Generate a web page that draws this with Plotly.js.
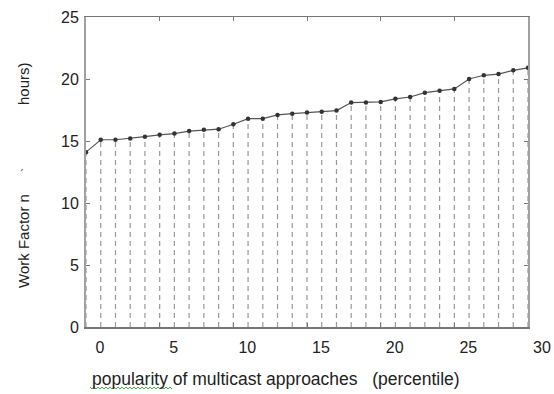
<!DOCTYPE html>
<html>
<head>
<meta charset="utf-8">
<script src="https://cdn.plot.ly/plotly-3.0.1.min.js"></script>
<style>html,body{margin:0;padding:0;background:#fff;}#chart{width:554px;height:394px;}</style>
</head>
<body>
<div id="chart"></div>
<script>
const percentile = [0,1,2,3,4,5,6,7,8,9,10,11,12,13,14,15,16,17,18,19,20,21,22,23,24,25,26,27,28,29,30];
const workFactor = [14.1,15.1,15.1,15.2,15.35,15.5,15.6,15.8,15.9,15.95,16.35,16.8,16.8,17.1,17.2,17.3,17.35,17.45,18.1,18.1,18.15,18.4,18.55,18.9,19.05,19.2,20.0,20.3,20.4,20.7,20.9];
const xTickVals = [0,5,10,15,20,25,30];
const xTickText = ["0","5","10","15","20","25","30"];
const yTickVals = [0,5,10,15,20,25];
const yTickText = ["0","5","10","15","20","25"];
const xTitle = 'popularity of multicast approaches \u00A0 (percentile)';
const yTitleA = 'Work Factor n';
const yTitleB = 'hours)';

const stemX = [], stemY = [];
percentile.forEach((p, i) => { stemX.push(p, p, null); stemY.push(0, workFactor[i], null); });

// plot area geometry (px) for placing titles in paper coordinates
const L = 86, R = 528, T = 17, B = 327, W = R - L, H = B - T;
const px = v => (v - L) / W, py = v => (B - v) / H;

// spell-check squiggle under "popularity"
let sq = 'M' + px(90) + ',' + py(387);
for (let k = 0, xx = 90; xx < 172; k++) { xx += 2; sq += ' L' + px(xx) + ',' + py(k % 2 ? 387 : 389); }

const font = "Liberation Sans, Arial, sans-serif";
const data = [
  {x: stemX, y: stemY, type: 'scatter', mode: 'lines',
   line: {color: '#999', width: 1.2, dash: '5px,4px'}, hoverinfo: 'skip'},
  {x: percentile, y: workFactor, type: 'scatter', mode: 'lines+markers',
   line: {color: '#555', width: 1.2}, marker: {color: '#333', size: 4.5}}
];
const layout = {
  width: 554, height: 394, showlegend: false,
  paper_bgcolor: '#fff', plot_bgcolor: '#fff',
  margin: {l: L, r: 554 - R, t: T, b: 394 - B},
  font: {family: font, color: '#222'},
  xaxis: {range: [0, 30], tickvals: xTickVals, ticktext: xTickText,
    ticks: 'inside', ticklen: 4, tickcolor: '#777', mirror: 'ticks',
    showline: true, linecolor: '#777', linewidth: 1.5, showgrid: false, zeroline: false,
    ticklabelshift: 14, ticklabelstandoff: 5,
    tickfont: {size: 16, color: '#222', family: font}},
  yaxis: {range: [0, 25], tickvals: yTickVals, ticktext: yTickText,
    ticks: 'inside', ticklen: 4, tickcolor: '#777', mirror: 'ticks',
    showline: true, linecolor: '#a0a0a0', linewidth: 2, showgrid: false, zeroline: false,
    ticklabelstandoff: 2,
    tickfont: {size: 16, color: '#222', family: font}},
  annotations: [
    {text: xTitle, xref: 'paper', yref: 'paper', x: px(90), y: py(379), xanchor: 'left', yanchor: 'middle',
     showarrow: false, font: {size: 17.5, color: '#222', family: font}},
    {text: yTitleA, xref: 'paper', yref: 'paper', x: px(23), y: py(241), xanchor: 'center', yanchor: 'middle',
     textangle: -90, showarrow: false, font: {size: 15, color: '#222', family: font}},
    {text: yTitleB, xref: 'paper', yref: 'paper', x: px(23), y: py(84), xanchor: 'center', yanchor: 'middle',
     textangle: -90, showarrow: false, font: {size: 15, color: '#222', family: font}},
    {text: '`', xref: 'paper', yref: 'paper', x: px(26), y: py(170), xanchor: 'center', yanchor: 'middle',
     textangle: -90, showarrow: false, font: {size: 13, color: '#444', family: font}}
  ],
  shapes: [
    {type: 'path', xref: 'paper', yref: 'paper', path: sq, line: {color: '#4caf50', width: 1}}
  ]
};
Plotly.newPlot('chart', data, layout, {staticPlot: true, displayModeBar: false});
</script>
</body>
</html>
